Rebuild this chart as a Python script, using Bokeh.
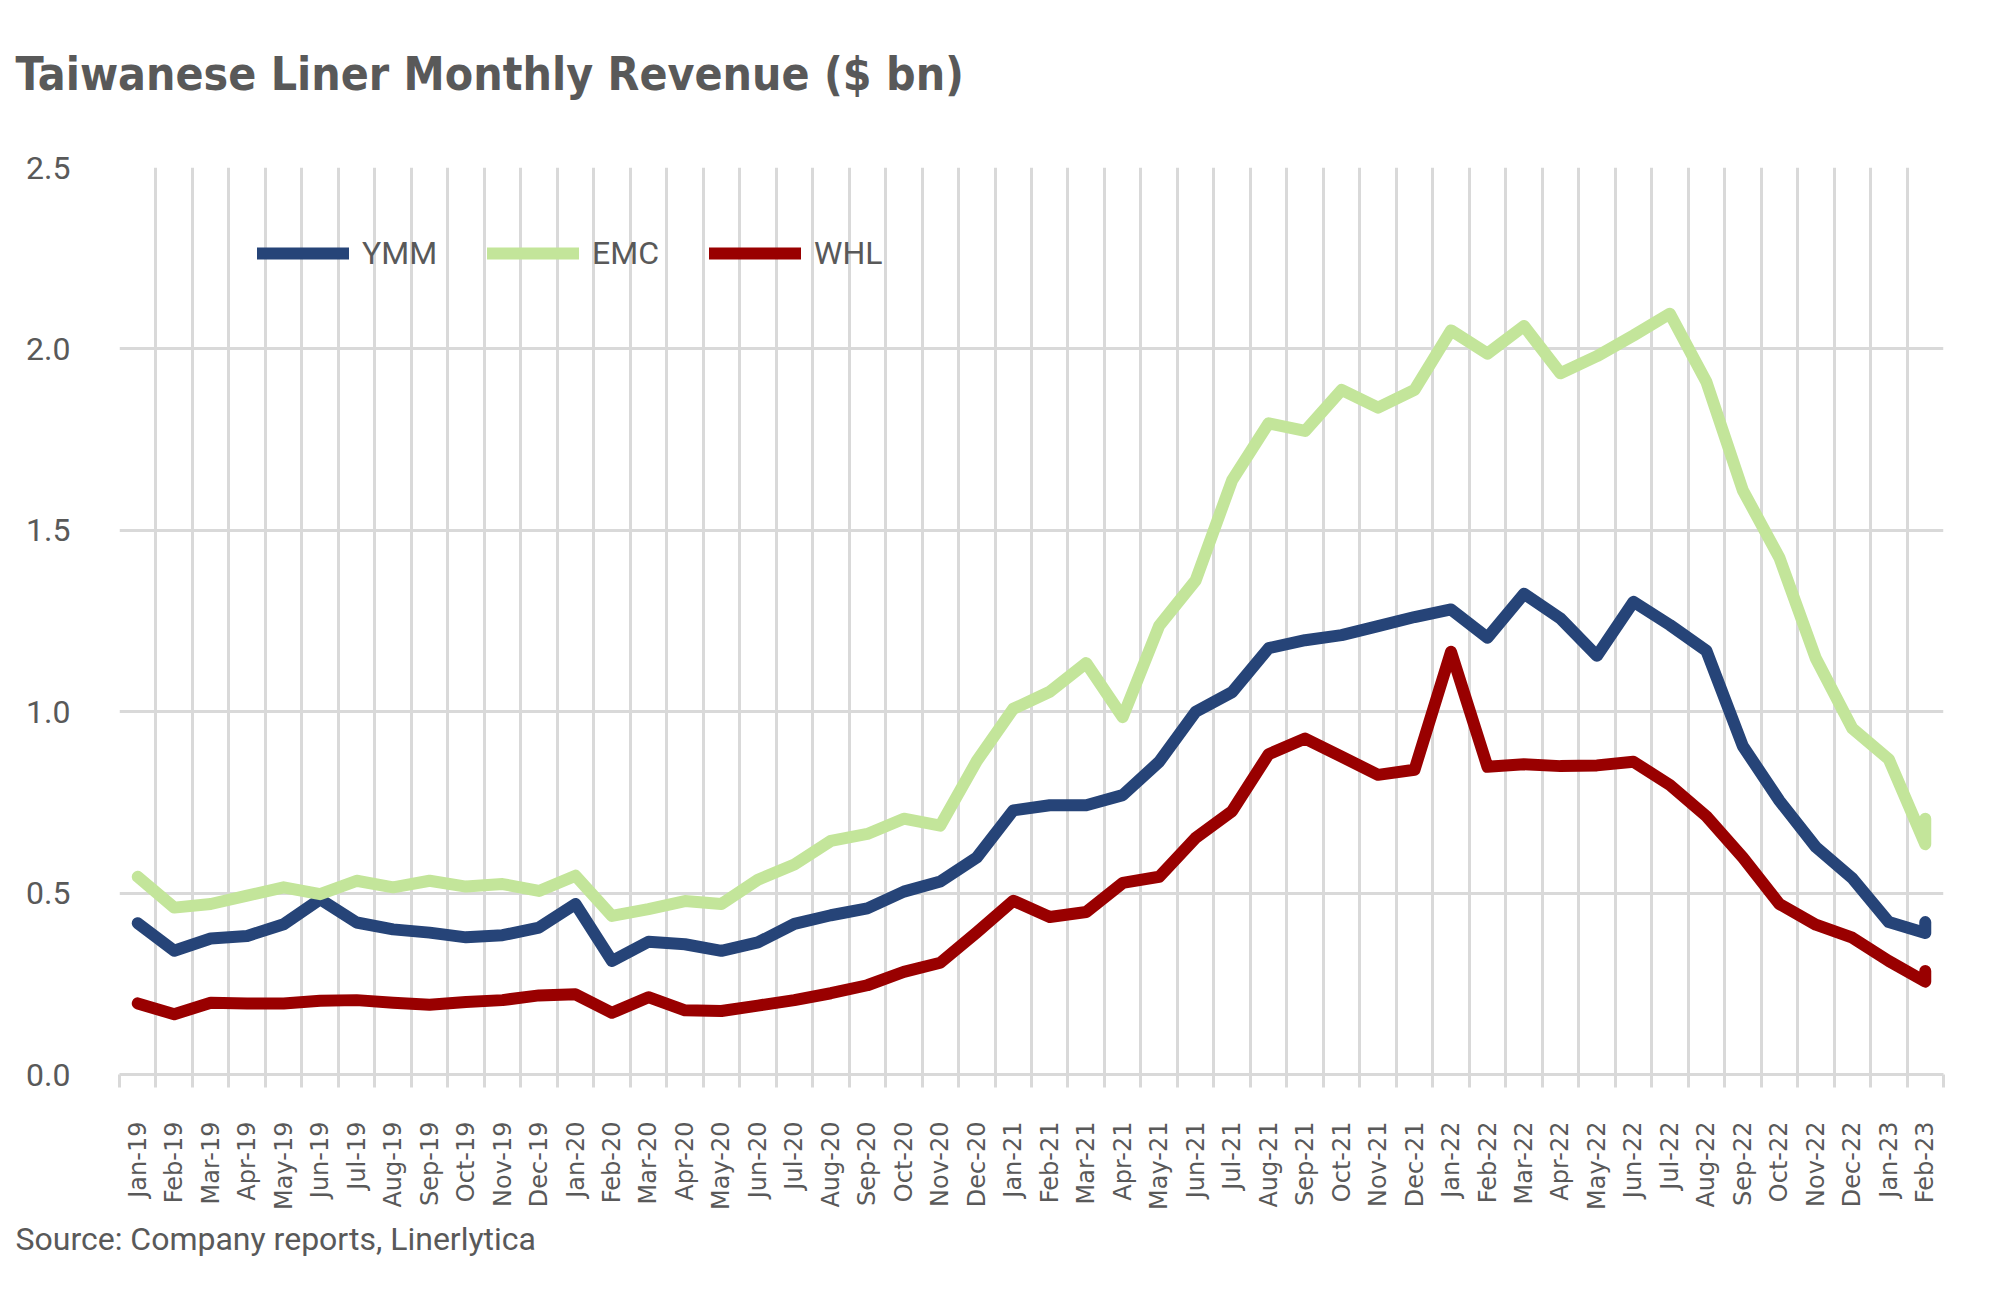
import math
from bokeh.plotting import figure
from bokeh.models import FixedTicker, Legend, LegendItem, NumeralTickFormatter, Title
from bokeh.embed import file_html
from bokeh.resources import INLINE

months = ["Jan-19", "Feb-19", "Mar-19", "Apr-19", "May-19", "Jun-19", "Jul-19", "Aug-19", "Sep-19", "Oct-19",
          "Nov-19", "Dec-19", "Jan-20", "Feb-20", "Mar-20", "Apr-20", "May-20", "Jun-20", "Jul-20", "Aug-20",
          "Sep-20", "Oct-20", "Nov-20", "Dec-20", "Jan-21", "Feb-21", "Mar-21", "Apr-21", "May-21", "Jun-21",
          "Jul-21", "Aug-21", "Sep-21", "Oct-21", "Nov-21", "Dec-21", "Jan-22", "Feb-22", "Mar-22", "Apr-22",
          "May-22", "Jun-22", "Jul-22", "Aug-22", "Sep-22", "Oct-22", "Nov-22", "Dec-22", "Jan-23", "Feb-23"]

ymm = [0.417, 0.341, 0.375, 0.382, 0.414, 0.483, 0.419, 0.400, 0.391, 0.378,
       0.384, 0.405, 0.470, 0.313, 0.366, 0.359, 0.341, 0.364, 0.415, 0.439,
       0.458, 0.504, 0.532, 0.598, 0.728, 0.742, 0.742, 0.770, 0.862, 1.000,
       1.054, 1.175, 1.197, 1.211, 1.236, 1.261, 1.282, 1.204, 1.325, 1.257,
       1.154, 1.303, 1.239, 1.168, 0.905, 0.755, 0.627, 0.541, 0.420, 0.390]
emc = [0.545, 0.460, 0.470, 0.493, 0.516, 0.497, 0.534, 0.516, 0.534, 0.518,
       0.525, 0.506, 0.548, 0.437, 0.456, 0.478, 0.470, 0.537, 0.579, 0.644,
       0.663, 0.705, 0.686, 0.864, 1.008, 1.055, 1.134, 0.985, 1.237, 1.362,
       1.638, 1.795, 1.774, 1.887, 1.838, 1.887, 2.051, 1.987, 2.063, 1.933,
       1.980, 2.037, 2.097, 1.909, 1.610, 1.425, 1.147, 0.954, 0.869, 0.635]
whl = [0.196, 0.166, 0.198, 0.196, 0.196, 0.203, 0.205, 0.198, 0.192, 0.200,
       0.205, 0.218, 0.221, 0.170, 0.213, 0.177, 0.175, 0.190, 0.205, 0.224,
       0.246, 0.283, 0.308, 0.392, 0.479, 0.434, 0.448, 0.528, 0.545, 0.652,
       0.726, 0.883, 0.926, 0.876, 0.826, 0.840, 1.165, 0.848, 0.855, 0.850,
       0.852, 0.862, 0.798, 0.712, 0.598, 0.470, 0.413, 0.377, 0.313, 0.256]
# restated latest-month values (drawn at the same Feb-23 position)
ymm_latest = 0.420
emc_latest = 0.705
whl_latest = 0.285

series_names = ["YMM", "EMC", "WHL"]
series_colors = ["#264478", "#C3E59A", "#990000"]
y_ticks = [0.0, 0.5, 1.0, 1.5, 2.0, 2.5]

GREY_TEXT = "#595959"
GRID = "#D9D9D9"

n = len(months)
xs = list(range(n)) + [n - 1]
bounds = [i - 0.5 for i in range(n + 1)]

p = figure(width=1984, height=1273, x_range=(-0.5, n - 0.5), y_range=(0, 2.5),
           output_backend="svg", toolbar_location=None,
           min_border_left=119, min_border_right=41, min_border_top=167, min_border_bottom=199)
p.outline_line_color = None
p.background_fill_color = "white"
p.border_fill_color = "white"

# main title (outermost slot of the above panel)
p.title.text = "Taiwanese Liner Monthly Revenue ($ bn)"
p.title.align = "left"
p.title.offset = -104
p.title.standoff = 0
p.title.text_font = "DejaVu Sans Condensed"
p.title.text_font_style = "bold"
p.title.text_font_size = "46px"
p.title.text_color = GREY_TEXT

# empty spacer between title and frame
spacer = Title(text=" ", text_font_size="40px", standoff=21)
p.add_layout(spacer, "above")

src = Title(text="Source: Company reports, Linerlytica", align="left", offset=-104,
            text_font="Roboto", text_font_style="normal", text_font_size="32px",
            text_color=GREY_TEXT, standoff=10)
p.add_layout(src, "below")

# x axis
p.xaxis.ticker = FixedTicker(ticks=list(range(n)), minor_ticks=bounds)
p.xaxis.major_label_overrides = {i: m for i, m in enumerate(months)}
p.xaxis.major_label_orientation = math.pi / 2
p.xaxis.major_tick_line_color = None
p.xaxis.major_tick_in = 0
p.xaxis.major_tick_out = 0
p.xaxis.minor_tick_in = 0
p.xaxis.minor_tick_out = 13
p.xaxis.minor_tick_line_color = GRID
p.xaxis.minor_tick_line_width = 3
p.xaxis.axis_line_color = GRID
p.xaxis.axis_line_width = 3
p.xaxis.major_label_standoff = 34
p.xaxis.major_label_text_font = "DejaVu Sans"
p.xaxis.major_label_text_font_size = "24px"
p.xaxis.major_label_text_color = GREY_TEXT

p.xgrid.ticker = FixedTicker(ticks=bounds)
p.xgrid.grid_line_color = GRID
p.xgrid.grid_line_width = 3

# y axis
p.yaxis.ticker = FixedTicker(ticks=y_ticks)
p.yaxis.formatter = NumeralTickFormatter(format="0.0")
p.yaxis.axis_line_color = None
p.yaxis.major_tick_line_color = None
p.yaxis.minor_tick_line_color = None
p.yaxis.major_tick_in = 0
p.yaxis.major_tick_out = 0
p.yaxis.major_label_standoff = 49
p.yaxis.major_label_text_font = "Roboto"
p.yaxis.major_label_text_font_size = "32px"
p.yaxis.major_label_text_color = GREY_TEXT
p.ygrid.grid_line_color = GRID
p.ygrid.grid_line_width = 3

renderers = []
for name, vals, latest, col in zip(series_names, [ymm, emc, whl], [ymm_latest, emc_latest, whl_latest], series_colors):
    r = p.line(xs, vals + [latest], line_color=col, line_width=12, line_cap="round", line_join="round")
    renderers.append((name, r))

legend = Legend(items=[LegendItem(label=nm, renderers=[r]) for nm, r in renderers],
                orientation="horizontal", location=(138, 802),
                glyph_width=92, glyph_height=38, label_standoff=13, spacing=50,
                padding=0, margin=0, border_line_color=None, background_fill_alpha=0,
                label_text_font="Roboto", label_text_font_size="32px", label_text_color=GREY_TEXT,
                label_height=38)
p.add_layout(legend)

open("out.html", "w").write(file_html(p, INLINE))
